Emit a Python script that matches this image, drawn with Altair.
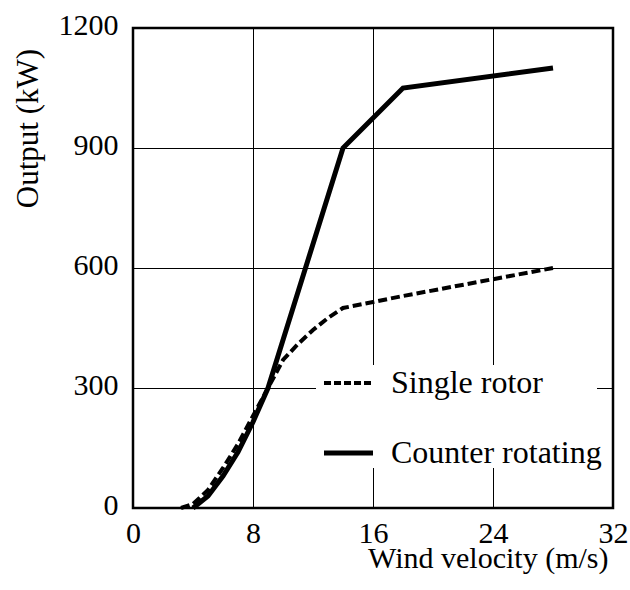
import altair as alt
import pandas as pd

# Wind velocity (m/s) and output (kW) for each rotor configuration
single_v = [3.2, 4, 5, 6, 7, 8, 9, 10, 11, 12, 13, 14, 18, 28]
single_p = [0, 10, 45, 100, 160, 230, 300, 370, 410, 445, 475, 500, 530, 600]

counter_v = [4, 5, 6, 7, 8, 9, 10, 11, 12, 13, 14, 18, 28]
counter_p = [0, 30, 80, 140, 215, 300, 420, 540, 660, 780, 900, 1050, 1100]

legend_labels = ["Single rotor", "Counter rotating"]

FONT = "Liberation Serif"

single = pd.DataFrame({"v": single_v, "p": single_p})
counter = pd.DataFrame({"v": counter_v, "p": counter_p})

x_scale = alt.Scale(domain=[0, 32], nice=False, zero=False)
y_scale = alt.Scale(domain=[0, 1200], nice=False)

x_axis = alt.Axis(
    values=[0, 8, 16, 24, 32], title="Wind velocity (m/s)", grid=True,
    format="d", ticks=False, labelPadding=10, labelFontSize=30, labelFont=FONT,
    titleFont=FONT, titleFontSize=30, titleFontWeight="normal",
    titleX=475, titleY=59, titleAlign="right", titleBaseline="alphabetic",
    labelColor="black", titleColor="black", labelFlush=False,
)
y_axis = alt.Axis(
    values=[0, 300, 600, 900, 1200], title="Output (kW)", grid=True,
    format="d", ticks=False, labelPadding=15, labelFontSize=30, labelFont=FONT,
    labelOffset=-3,
    titleFont=FONT, titleFontSize=31, titleFontWeight="normal",
    titleX=-105, titleY=100, titleAlign="center", titleBaseline="middle",
    labelColor="black", titleColor="black", labelFlush=False,
)

line_single = alt.Chart(single).mark_line(
    color="black", strokeWidth=4, strokeDash=[9, 4]
).encode(
    x=alt.X("v:Q", scale=x_scale, axis=x_axis),
    y=alt.Y("p:Q", scale=y_scale, axis=y_axis),
)

line_counter = alt.Chart(counter).mark_line(
    color="black", strokeWidth=5
).encode(
    x=alt.X("v:Q", scale=x_scale),
    y=alt.Y("p:Q", scale=y_scale),
)

# Legend drawn inside the plot area on a white panel
one = pd.DataFrame({"k": [0]})
legend_bg = alt.Chart(one).mark_rect(color="white").encode(
    x=alt.value(183), x2=alt.value(464), y=alt.value(337), y2=alt.value(440)
)
leg_dash = alt.Chart(one).mark_rule(
    color="black", strokeWidth=4, strokeDash=[7, 3]
).encode(x=alt.value(191), x2=alt.value(240), y=alt.value(355))
leg_solid = alt.Chart(one).mark_rule(
    color="black", strokeWidth=5
).encode(x=alt.value(191), x2=alt.value(240), y=alt.value(425))

text_style = dict(align="left", baseline="middle", font=FONT, fontSize=32,
                  color="black")
leg_text_single = alt.Chart(
    pd.DataFrame({"label": [legend_labels[0]]})
).mark_text(**text_style).encode(
    x=alt.value(258), y=alt.value(355), text="label:N"
)
leg_text_counter = alt.Chart(
    pd.DataFrame({"label": [legend_labels[1]]})
).mark_text(**text_style).encode(
    x=alt.value(258), y=alt.value(425), text="label:N"
)

chart = alt.layer(
    line_single, line_counter, legend_bg, leg_dash, leg_solid,
    leg_text_single, leg_text_counter,
).properties(
    width=480, height=480,
    padding={"left": 133, "top": 28, "right": 17, "bottom": 82},
    autosize="none",
).configure_view(
    stroke="black", strokeWidth=2.5
).configure_axis(
    gridColor="black", gridWidth=1, gridOpacity=1, domain=False,
)

chart.save("out.html", embed_options={"renderer": "svg", "actions": False})
